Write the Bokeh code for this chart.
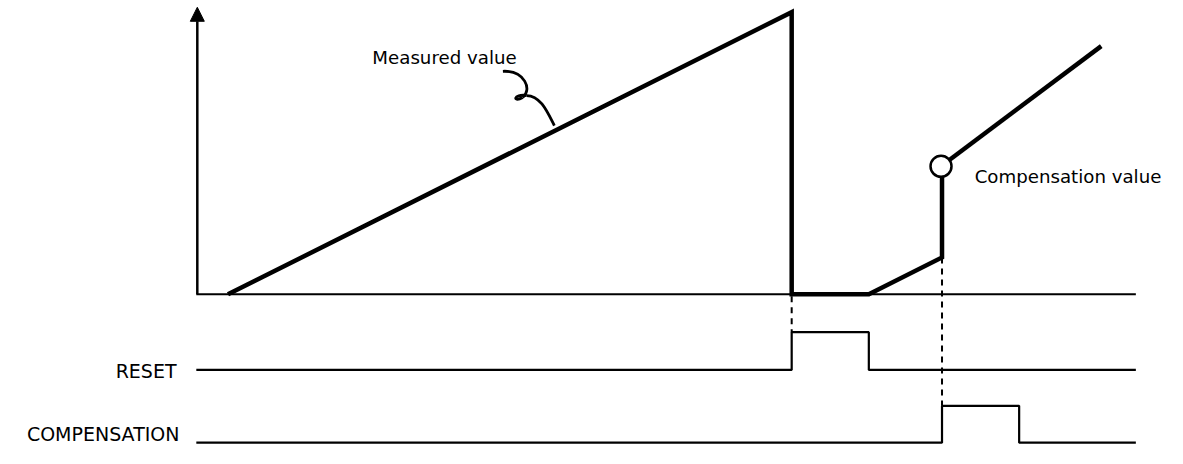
from bokeh.plotting import figure
from bokeh.models import Range1d, Arrow, NormalHead
from bokeh.core.properties import value
from bokeh.embed import file_html
from bokeh.resources import INLINE

# ---- data (diagram coordinates, y grows downward) ----
axis_x = [198, 1148]
axis_y = [303, 303]
yaxis_x0, yaxis_y0, yaxis_y1 = 199, 303, 7

measured_x = [230, 800, 800, 878, 952, 952]
measured_y = [303, 12, 303, 303, 265, 171]
after_x = [951, 1113]
after_y = [171, 47]
comp_point_x = [951]
comp_point_y = [171]

reset_x = [198, 800, 800, 878, 878, 1148]
reset_y = [381, 381, 342, 342, 381, 381]
compsig_x = [198, 952, 952, 1030, 1030, 1148]
compsig_y = [456, 456, 418, 418, 456, 456]

dash1_x = [800, 800]
dash1_y = [305, 342]
dash2_x = [952, 952]
dash2_y = [265, 418]

# leader squiggle (bezier segments)
sq_x0 = [508, 528, 532]
sq_y0 = [73, 100, 98]
sq_x1 = [528, 532, 560]
sq_y1 = [100, 98, 129]
sq_cx0 = [530, 518, 546]
sq_cy0 = [72, 106, 98]
sq_cx1 = [538, 518, 553]
sq_cy1 = [92, 96, 115]

labels_left = ["Measured value", "Compensation value"]
labels_left_x = [376, 985]
labels_left_y = [59, 181]
labels_right = ["RESET", "COMPENSATION"]
labels_right_x = [178, 181]
labels_right_y = [382, 447]

p = figure(width=1167, height=448, x_range=Range1d(0, 1180), y_range=Range1d(462, 0),
           output_backend="svg", toolbar_location=None, min_border=0)
p.axis.visible = False
p.grid.visible = False
p.outline_line_color = None
p.background_fill_color = "white"

# axes
p.line(axis_x, axis_y, line_color="black", line_width=2)
p.add_layout(Arrow(end=NormalHead(size=14, fill_color="black", line_color="black", line_width=1),
                   x_start=yaxis_x0, y_start=yaxis_y0, x_end=yaxis_x0, y_end=yaxis_y1,
                   line_color="black", line_width=2.5))

# dashed guides
p.line(dash1_x, dash1_y, line_color="black", line_width=2, line_dash="6 5")
p.line(dash2_x, dash2_y, line_color="black", line_width=2, line_dash="6 5")

# signals
p.line(reset_x, reset_y, line_color="black", line_width=2.2)
p.line(compsig_x, compsig_y, line_color="black", line_width=2.2)

# measured value
p.line(measured_x, measured_y, line_color="black", line_width=4.5, line_join="miter")
p.line(after_x, after_y, line_color="black", line_width=4.5)
p.scatter(comp_point_x, comp_point_y, size=21, marker="circle", fill_color="white",
          line_color="black", line_width=2.5)

# leader
p.bezier(x0=sq_x0, y0=sq_y0, x1=sq_x1, y1=sq_y1, cx0=sq_cx0, cy0=sq_cy0, cx1=sq_cx1, cy1=sq_cy1,
         line_color="black", line_width=2.8)

# labels
p.text(labels_left_x, labels_left_y, text=labels_left, text_font=value("DejaVu Sans"),
       text_font_size="18.2px", text_align="left", text_baseline="middle", text_color="black")
p.text(labels_right_x, labels_right_y, text=labels_right, text_font=value("DejaVu Sans"),
       text_font_size="19px", text_align="right", text_baseline="middle", text_color="black")

open("out.html", "w").write(file_html(p, INLINE))
